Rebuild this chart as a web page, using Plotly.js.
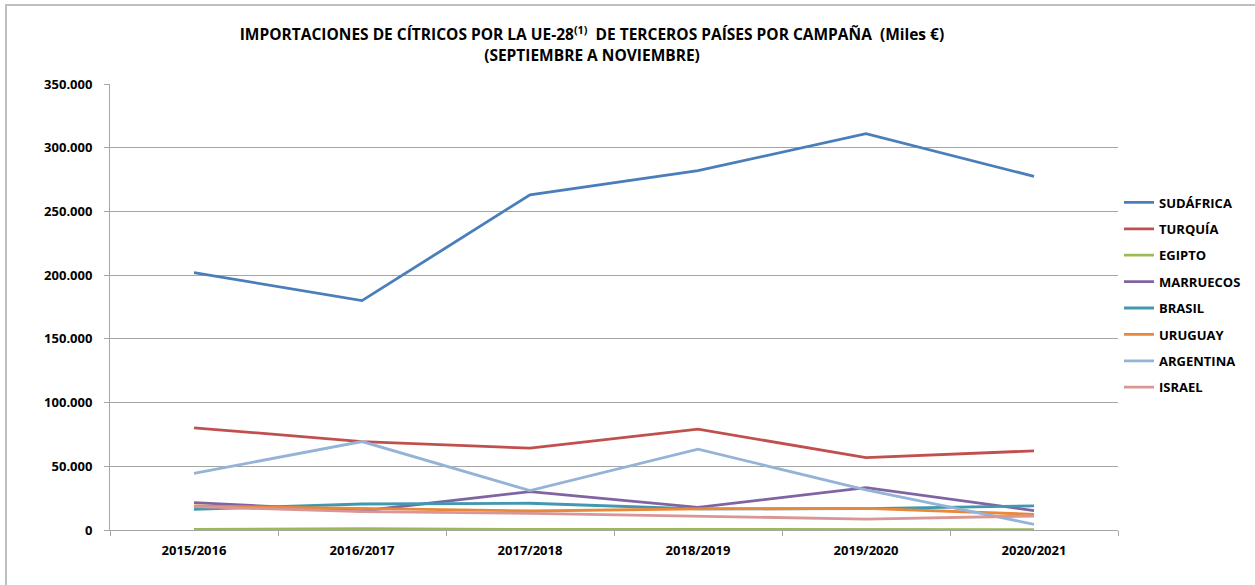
<!DOCTYPE html>
<html>
<head>
<meta charset="utf-8">
<script src="https://cdn.plot.ly/plotly-3.0.1.min.js"></script>
<style>
html,body{margin:0;padding:0;background:#fff;}
#chart{width:1255px;height:585px;}
</style>
</head>
<body>
<div id="chart"></div>
<script>
const campaigns = ["2015/2016","2016/2017","2017/2018","2018/2019","2019/2020","2020/2021"];
const countries = ["SUDÁFRICA","TURQUÍA","EGIPTO","MARRUECOS","BRASIL","URUGUAY","ARGENTINA","ISRAEL"];
const sudafrica = [202000,180000,263000,282000,311000,277500];
const turquia   = [80200,69400,64200,79100,56800,62100];
const egipto    = [500,1000,500,300,300,300];
const marruecos = [21500,14900,30100,17800,33200,15200];
const brasil    = [16300,20400,21000,16500,16700,18900];
const uruguay   = [18900,16700,14900,16500,17000,12300];
const argentina = [44500,69400,30900,63400,31500,4500];
const israel    = [18300,14400,13100,11000,8600,11000];
const seriesValues = [sudafrica,turquia,egipto,marruecos,brasil,uruguay,argentina,israel];
const colors = ["#4A7EBB","#C0504D","#9BBB59","#8064A2","#4198AF","#E8883A","#95B3D7","#D99694"];

const FONT = "'Open Sans', Lato, sans-serif";

const traces = countries.map((name, i) => ({
  type: "scatter",
  mode: "lines",
  name: name,
  x: campaigns,
  y: seriesValues[i],
  legendgroup: "g" + i,
  line: {color: colors[i], width: 2.8},
  hoverinfo: "x+y+name"
}));

const layout = {
  width: 1255,
  height: 585,
  separators: ",.",
  paper_bgcolor: "#ffffff",
  plot_bgcolor: "#ffffff",
  margin: {l: 110, r: 137, t: 84, b: 55, autoexpand: false},
  font: {family: FONT, size: 13, color: "#000000", weight: 700},
  title: {
    text: "IMPORTACIONES DE CÍTRICOS POR LA UE-28<sup>(1)</sup>  DE TERCEROS PAÍSES POR CAMPAÑA  (Miles €)<br>(SEPTIEMBRE A NOVIEMBRE)",
    font: {family: FONT, size: 15.5, color: "#000000", weight: 700},
    xref: "container", x: 0.4717, xanchor: "center",
    yref: "container", y: 0.931, yanchor: "top"
  },
  xaxis: {
    type: "category",
    range: [-0.5, 5.5],
    showgrid: false,
    showline: true,
    linecolor: "#a6a6a6",
    linewidth: 1,
    ticks: "outside",
    tickson: "boundaries",
    ticklen: 5,
    tickcolor: "#a6a6a6",
    ticklabelstandoff: 8,
    tickfont: {family: FONT, size: 13, color: "#000000", weight: 700},
    fixedrange: true
  },
  yaxis: {
    range: [0, 350000],
    dtick: 50000,
    tickformat: ",d",
    showgrid: true,
    gridcolor: "#a6a6a6",
    gridwidth: 1,
    showline: true,
    linecolor: "#a6a6a6",
    linewidth: 1,
    ticks: "outside",
    ticklen: 5,
    tickcolor: "#a6a6a6",
    ticklabelstandoff: 9,
    zeroline: false,
    tickfont: {family: FONT, size: 13, color: "#000000", weight: 700},
    fixedrange: true
  },
  legend: {
    x: 1.001, xanchor: "left",
    y: 0.768, yanchor: "top",
    traceorder: "grouped",
    tracegroupgap: 6.5,
    font: {family: FONT, size: 13, color: "#000000", weight: 700},
    bgcolor: "rgba(0,0,0,0)",
    itemwidth: 30
  },
  shapes: [{
    type: "rect", xref: "paper", yref: "paper",
    x0: (6 - 110) / 1008, x1: (1262 - 110) / 1008,
    y0: (530 - 592) / 446, y1: (530 - 5) / 446,
    line: {color: "#bfbfbf", width: 2},
    fillcolor: "rgba(0,0,0,0)",
    layer: "below"
  }],
  showlegend: true
};

Plotly.newPlot("chart", traces, layout, {displayModeBar: false});
</script>
</body>
</html>
